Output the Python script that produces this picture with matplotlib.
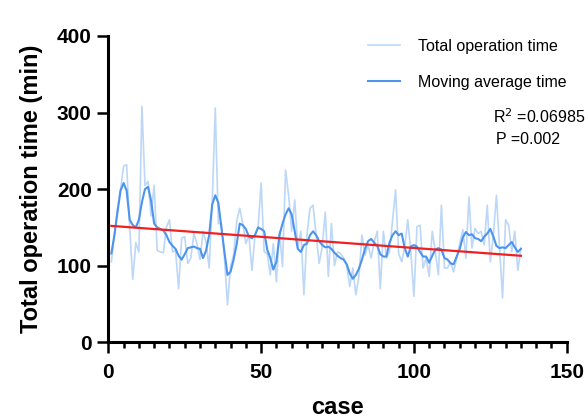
import matplotlib
matplotlib.use("Agg")
import matplotlib.pyplot as plt
from matplotlib.ticker import MultipleLocator

plt.rcParams["font.family"] = ["Liberation Sans", "DejaVu Sans"]

# raw operation time per case (min)
case = list(range(1, 136))
total_time = [
    105, 140, 175, 200, 230, 232, 150, 82, 130, 118,
    308, 205, 210, 165, 205, 120, 118, 117, 150, 160,
    118, 120, 70, 136, 138, 103, 110, 142, 129, 108,
    145, 131, 97, 182, 306, 155, 155, 110, 49, 99,
    114, 158, 175, 155, 129, 140, 94, 140, 149, 208,
    118, 116, 88, 129, 79, 145, 99, 225, 192, 145,
    186, 123, 145, 62, 140, 175, 179, 140, 103, 125,
    170, 86, 155, 100, 118, 116, 110, 100, 73, 97,
    62, 86, 140, 114, 127, 110, 131, 145, 70, 145,
    110, 118, 158, 199, 116, 105, 125, 160, 118, 60,
    151, 153, 97, 110, 86, 145, 118, 88, 179, 97,
    97, 105, 92, 110, 129, 147, 110, 190, 123, 149,
    142, 145, 127, 179, 105, 140, 192, 125, 58, 160,
    153, 118, 145, 94, 123,
]
moving_avg = [
    116, 140, 170, 198, 208, 198, 160, 153, 150, 160,
    183, 200, 203, 185, 155, 150, 148, 146, 140, 131,
    126, 122, 113, 108, 115, 123, 124, 125, 123, 122,
    110, 120, 140, 180, 192, 182, 150, 118, 88, 92,
    108, 128, 155, 153, 148, 138, 136, 140, 150, 148,
    145, 121, 110, 95, 105, 140, 155, 167, 175, 167,
    145, 122, 118, 127, 129, 140, 145, 140, 132, 127,
    124, 125, 122, 117, 113, 110, 108, 102, 90, 83,
    88, 96, 108, 122, 132, 135, 130, 126, 115, 112,
    112, 130, 140, 145, 140, 142, 123, 112, 125, 127,
    125, 118, 112, 112, 104, 113, 121, 123, 121, 110,
    108, 103, 102, 112, 122, 137, 144, 140, 141, 136,
    135, 132, 138, 142, 148, 138, 126, 123, 124, 123,
    127, 131, 124, 118, 122,
]
fit_x = [1, 135]
fit_y = [152, 113]

fig = plt.figure(figsize=(5.88, 4.18), dpi=100)
ax = fig.add_axes([0.1842, 0.1811, 0.7796, 0.7328])

ax.plot(case, total_time, color="#bcd7f8", lw=1.2, label="Total operation time")
ax.plot(case, moving_avg, color="#4d94ea", lw=1.5, label="Moving average time")
ax.plot(fit_x, fit_y, color="#f02020", lw=1.6)

ax.set_xlim(0, 150)
ax.set_ylim(0, 400)
ax.xaxis.set_major_locator(MultipleLocator(50))
ax.xaxis.set_minor_locator(MultipleLocator(5))
ax.yaxis.set_major_locator(MultipleLocator(100))

for s in ["top", "right"]:
    ax.spines[s].set_visible(False)
for s in ["left", "bottom"]:
    ax.spines[s].set_linewidth(2.2)
ax.tick_params(which="major", length=8, width=1.8, labelsize=15, pad=4)
ax.tick_params(axis="x", which="major", pad=7)
ax.tick_params(which="minor", length=4, width=1.8)
for lab in ax.get_xticklabels() + ax.get_yticklabels():
    lab.set_fontweight("bold")

ax.set_xlabel("case", fontsize=17, fontweight="bold", labelpad=10)
ax.set_ylabel("Total operation time (min)", fontsize=17, fontweight="bold", labelpad=10)

fig.legend(loc="upper left", bbox_to_anchor=(368 / 588, 1 - 39 / 418), frameon=False,
           fontsize=11.5, handlelength=2.0, handletextpad=1.15, labelspacing=1.3,
           borderpad=0, borderaxespad=0)

fig.text(493 / 588, 1 - 117 / 418, "R$^2$ =0.06985", fontsize=11.5, va="center")
fig.text(496 / 588, 1 - 140 / 418, "P =0.002", fontsize=11.5, va="center")

fig.savefig("out.png", dpi=100)
